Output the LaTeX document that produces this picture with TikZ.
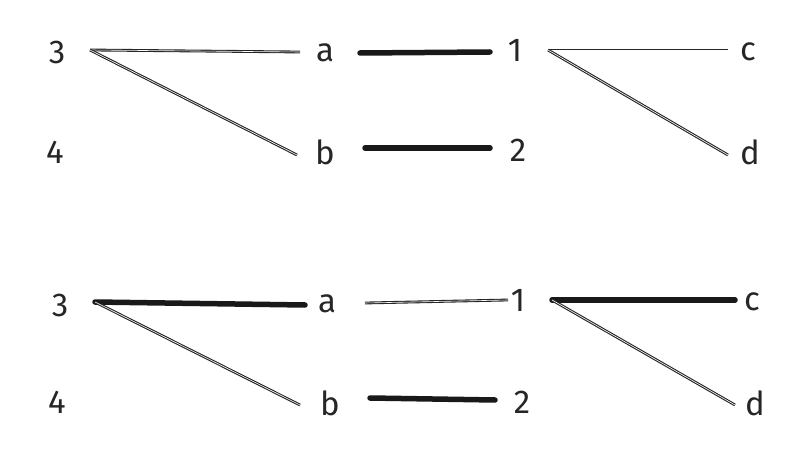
\documentclass[tikz,border=0pt]{standalone}
\usepackage{fontspec}
\setmainfont{Fira Sans}
\begin{document}
\begin{tikzpicture}[x=1pt,y=-1pt,
  lbl/.style={font=\fontsize{33}{35}\selectfont, text=black!85, inner sep=0pt},
  thin/.style={draw=black!85, line width=1.1pt, double distance=0.6pt, double=white},
  thick/.style={draw=black!90, line width=5.5pt, line cap=round}]
\useasboundingbox (0,0) rectangle (802,454);
% top
\node[lbl] (t3) at (57,52) {3};
\node[lbl] (t4) at (55,152) {4};
\node[lbl] (ta) at (325,53) {a};
\node[lbl] (tb) at (325,152) {b};
\node[lbl] (t1) at (515,50) {1};
\node[lbl] (t2) at (518,150) {2};
\node[lbl] (tc) at (748,52) {c};
\node[lbl] (td) at (750,152) {d};
\coordinate (t3r) at (90,50);
\coordinate (tal) at (300,52);
\coordinate (tbl) at (297,155);
\coordinate (tar) at (360,53);
\coordinate (t1l) at (490,52);
\coordinate (tbr) at (365,148);
\coordinate (t2l) at (490,148);
\coordinate (t1r) at (548,50);
\coordinate (tcl) at (728,50);
\coordinate (tdl) at (728,155);
\draw[thin] (t3r) -- (tal);
\draw[thin] (t3r) -- (tbl);
\draw[thick] (tar) -- (t1l);
\draw[thick] (tbr) -- (t2l);
\draw[thin] (t1r) -- (tcl);
\draw[thin] (t1r) -- (tdl);
% bottom
\node[lbl] (b3) at (60,305) {3};
\node[lbl] (b4) at (57,402) {4};
\node[lbl] (ba) at (327,304) {a};
\node[lbl] (bb) at (330,403) {b};
\node[lbl] (b1) at (518,300) {1};
\node[lbl] (b2) at (522,402) {2};
\node[lbl] (bc) at (752,302) {c};
\node[lbl] (bd) at (755,403) {d};
\coordinate (b3r) at (95,302);
\coordinate (bal) at (305,305);
\coordinate (bbl) at (300,405);
\coordinate (bar) at (365,303);
\coordinate (b1l) at (508,300);
\coordinate (bbr) at (370,398);
\coordinate (b2l) at (495,400);
\coordinate (b1r) at (552,300);
\coordinate (bcl) at (735,300);
\coordinate (bdl) at (735,405);
\draw[thick] (b3r) -- (bal);
\draw[thin] (b3r) -- (bbl);
\draw[thin] (bar) -- (b1l);
\draw[thick] (bbr) -- (b2l);
\draw[thick] (b1r) -- (bcl);
\draw[thin] (b1r) -- (bdl);
\end{tikzpicture}
\end{document}
